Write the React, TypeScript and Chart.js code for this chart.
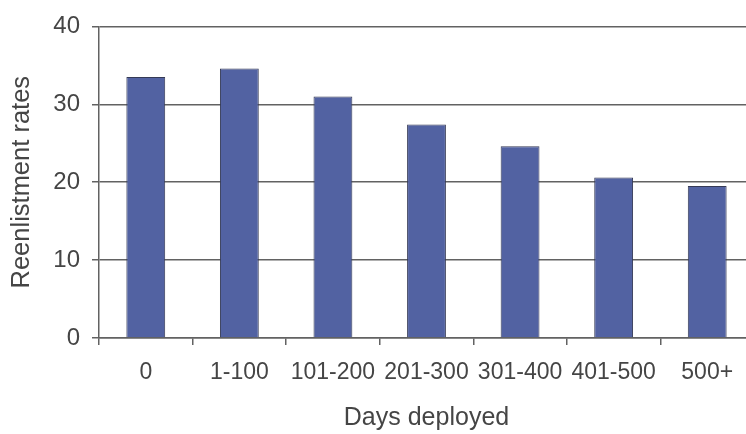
import { useEffect, useRef } from "react";
import { Chart, registerables } from "chart.js";

Chart.register(...registerables);

const categories = ["0", "1-100", "101-200", "201-300", "301-400", "401-500", "500+"];
const rates = [33.5, 34.6, 31.0, 27.4, 24.6, 20.6, 19.5];
const yMin = 0;
const yMax = 40;
const yStep = 10;
const xTitle = "Days deployed";
const yTitle = "Reenlistment rates";

const FONT = "'Liberation Sans', Arial, sans-serif";
const TEXT = "#454545";
const GRID = "#626262";

export default function App() {
  const ref = useRef<HTMLCanvasElement>(null);

  useEffect(() => {
    const canvas = ref.current;
    if (!canvas) return;
    const chart = new Chart(canvas, {
      type: "bar",
      data: {
        labels: categories,
        datasets: [
          {
            data: rates,
            backgroundColor: "#5262a2",
            borderColor: "#353a55",
            borderWidth: 1,
            categoryPercentage: 1,
            barPercentage: 0.415,
          },
        ],
      },
      options: {
        animation: false,
        responsive: false,
        devicePixelRatio: 1,
        layout: { padding: { left: 0, top: 21, right: 6, bottom: 0 } },
        plugins: {
          legend: { display: false },
          tooltip: { enabled: false },
        },
        scales: {
          x: {
            afterFit: (scale: any) => {
              scale.height = 96;
            },
            grid: {
              display: true,
              drawOnChartArea: false,
              drawTicks: true,
              tickLength: 7,
              color: GRID,
              lineWidth: 1.5,
            },
            border: { display: true, color: GRID, width: 1.5 },
            ticks: {
              color: TEXT,
              font: { family: FONT, size: 23 },
              padding: 14,
              maxRotation: 0,
              autoSkip: false,
            },
            title: {
              display: true,
              text: xTitle,
              color: TEXT,
              font: { family: FONT, size: 25 },
              padding: { top: 0, bottom: 1 },
            },
          },
          y: {
            min: yMin,
            max: yMax,
            afterFit: (scale: any) => {
              scale.width = 99;
            },
            grid: {
              color: GRID,
              lineWidth: 1.5,
              drawTicks: true,
              tickLength: 7,
            },
            border: { display: true, color: GRID, width: 1.5 },
            ticks: {
              stepSize: yStep,
              color: TEXT,
              font: { family: FONT, size: 24 },
              padding: 12,
            },
            title: {
              display: true,
              text: yTitle,
              color: TEXT,
              font: { family: FONT, size: 25.5 },
              padding: { top: 7, bottom: 0 },
            },
          },
        },
      },
    });
    return () => chart.destroy();
  }, []);

  return (
    <div
      style={{
        position: "fixed",
        left: 0,
        top: 0,
        width: 746,
        height: 434,
        overflow: "hidden",
        background: "#ffffff",
      }}
    >
      <canvas
        ref={ref}
        width={760}
        height={434}
        style={{ display: "block", width: 760, height: 434 }}
      />
    </div>
  );
}
